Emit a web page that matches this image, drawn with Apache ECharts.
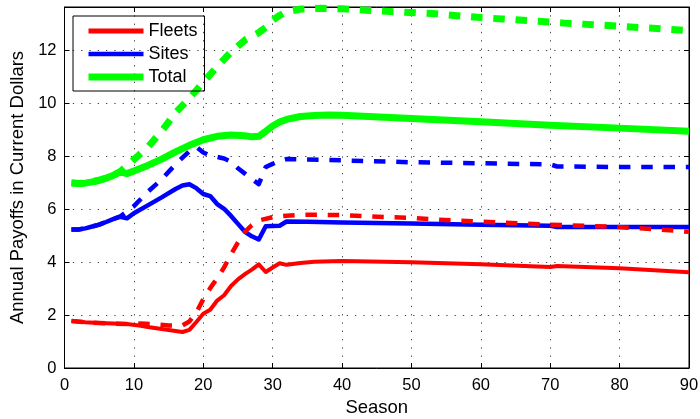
<!DOCTYPE html>
<html>
<head>
<meta charset="utf-8">
<script src="https://cdn.jsdelivr.net/npm/echarts@6/dist/echarts.min.js"></script>
<style>
  html, body { margin: 0; padding: 0; background: #fff; }
  #chart { width: 700px; height: 419px; }
</style>
</head>
<body>
<div id="chart"></div>
<script>
// Axis ticks
const xTicks = [0, 10, 20, 30, 40, 50, 60, 70, 80, 90];
const yTicks = [0, 2, 4, 6, 8, 10, 12];

// [season, value] pairs
const fleetsSolid = [[1,1.78],[3,1.73],[5,1.70],[7,1.68],[9,1.66],[11,1.60],[12,1.55],[13,1.51],[15,1.44],[16,1.40],[17,1.36],[18,1.44],[19,1.74],[20,2.05],[21,2.2],[22,2.55],[23,2.75],[24,3.1],[25,3.35],[26,3.55],[27,3.72],[28,3.92],[29,3.63],[30,3.8],[31,3.96],[32,3.9],[34,3.97],[36,4.02],[40,4.05],[50,4.0],[60,3.92],[70,3.82],[71,3.86],[80,3.77],[90,3.62]];
const fleetsDashed = [[1,1.78],[3,1.73],[5,1.70],[7,1.68],[9,1.66],[11,1.68],[13,1.65],[15,1.61],[17,1.61],[18,1.76],[19,2.1],[20,2.6],[21,3.02],[22,3.4],[23,3.8],[24,4.3],[25,4.75],[26,5.15],[27,5.4],[28,5.58],[30,5.7],[32,5.76],[34,5.79],[37,5.79],[40,5.78],[46,5.71],[50,5.68],[53,5.62],[60,5.53],[70,5.42],[79,5.34],[85,5.25],[90,5.15]];
const sitesSolid = [[1,5.24],[2,5.24],[3,5.28],[4,5.35],[5,5.42],[6,5.52],[7,5.63],[8,5.72],[9,5.66],[10,5.85],[12,6.15],[14,6.45],[16,6.77],[17,6.9],[18,6.95],[19,6.8],[20,6.58],[21,6.5],[22,6.2],[23,6.02],[24,5.75],[25,5.45],[26,5.15],[27,4.98],[28,4.86],[29,5.36],[30,5.37],[31,5.38],[32,5.54],[35,5.53],[40,5.5],[50,5.46],[60,5.42],[70,5.38],[71,5.33],[80,5.33],[90,5.33]];
const sitesDashed = [[1,5.24],[2,5.24],[3,5.28],[4,5.35],[5,5.42],[6,5.52],[7,5.63],[8,5.72],[10,6.12],[12,6.66],[14,7.13],[16,7.7],[18,8.2],[19,8.36],[20,8.15],[21,8.03],[22,7.98],[23,7.92],[24,7.8],[25,7.55],[26,7.35],[27,7.15],[28,6.95],[29,7.6],[30,7.72],[31,7.83],[32,7.9],[35,7.88],[40,7.85],[50,7.78],[60,7.74],[70,7.7],[71,7.62],[80,7.6],[90,7.6]];
const totalSolid = [[1,7.0],[2,6.98],[3,6.99],[4,7.04],[5,7.1],[6,7.18],[7,7.28],[8,7.42],[9,7.35],[10,7.45],[12,7.66],[14,7.9],[16,8.17],[18,8.42],[20,8.63],[22,8.76],[24,8.81],[26,8.78],[27,8.74],[28,8.76],[29,8.95],[30,9.15],[31,9.3],[32,9.4],[34,9.51],[36,9.55],[38,9.57],[40,9.56],[50,9.43],[60,9.31],[70,9.18],[80,9.07],[90,8.95]];
const totalDashed = [[1,7.0],[2,6.98],[3,6.99],[4,7.04],[5,7.1],[6,7.18],[7,7.28],[8,7.42],[10,7.88],[12,8.35],[14,8.95],[16,9.65],[18,10.2],[20,10.8],[22,11.4],[24,11.95],[26,12.4],[28,12.68],[29,12.88],[30,13.15],[31,13.33],[32,13.47],[34,13.57],[37,13.6],[40,13.58],[44,13.52],[47,13.48],[53,13.4],[60,13.25],[63,13.2],[70,13.08],[72,13.04],[79,12.94],[88,12.79],[90,12.76]];

const legendNames = ['Fleets', 'Sites', 'Total'];
const xName = 'Season';
const yName = 'Annual Payoffs in Current Dollars';

const FONT = '"Liberation Sans", Arial, sans-serif';
const DASH = [11.5, 10.8];

function line(name, data, color, width, dashed) {
  return {
    name: name, type: 'line', data: data, xAxisIndex: 0, yAxisIndex: 0,
    symbol: 'none', showSymbol: false, smooth: false, silent: true,
    lineStyle: { color: color, width: width, type: dashed ? DASH : 'solid', cap: 'butt', join: 'round' },
    itemStyle: { color: color },
    z: dashed ? 3 : 2
  };
}

const chart = echarts.init(document.getElementById('chart'), null, { renderer: 'canvas' });
const yFmt = v => (yTicks.indexOf(Math.round(v * 1000) / 1000) >= 0 ? String(v) : '');
const hiddenSym = { opacity: 0, borderWidth: 0 };
chart.setOption({
  animation: false,
  backgroundColor: '#fff',
  textStyle: { fontFamily: FONT },
  grid: { left: 64.5, right: 11, top: 7, bottom: 51, containLabel: false, outerBoundsMode: 'none',
          show: true, borderColor: '#000', borderWidth: 1, backgroundColor: 'transparent' },
  legend: {
    show: true, orient: 'vertical', left: 73, top: 16,
    padding: [5, 7, 4, 12], itemGap: 3, itemWidth: 55, itemHeight: 14,
    borderColor: '#000', borderWidth: 1, backgroundColor: 'transparent',
    textStyle: { fontFamily: FONT, fontSize: 18, color: '#000', lineHeight: 20 },
    selectedMode: false,
    itemStyle: hiddenSym,
    data: [
      { name: legendNames[0], itemStyle: hiddenSym, lineStyle: { width: 5, type: 'solid' } },
      { name: legendNames[1], itemStyle: hiddenSym, lineStyle: { width: 4.5, type: 'solid' } },
      { name: legendNames[2], itemStyle: hiddenSym, lineStyle: { width: 7, type: 'solid' } }
    ]
  },
  xAxis: [
    {
      type: 'value', position: 'bottom', min: xTicks[0], max: xTicks[xTicks.length - 1], interval: 10,
      name: xName, nameLocation: 'middle', nameGap: 28,
      nameTextStyle: { fontFamily: FONT, fontSize: 18.5, color: '#000' },
      axisLine: { show: true, onZero: false, lineStyle: { color: '#000', width: 1 } },
      axisTick: { show: true, inside: true, length: 5, lineStyle: { color: '#000' } },
      axisLabel: { show: true, margin: 9, fontFamily: FONT, fontSize: 16.5, color: '#000' },
      splitLine: { show: true, lineStyle: { color: '#444', width: 1, type: [1.3, 7] } }
    },
    {
      type: 'value', position: 'top', min: xTicks[0], max: xTicks[xTicks.length - 1], interval: 10,
      axisLine: { show: true, onZero: false, lineStyle: { color: '#000', width: 1 } },
      axisTick: { show: true, inside: true, length: 5, lineStyle: { color: '#000' } },
      axisLabel: { show: false }, splitLine: { show: false }
    }
  ],
  yAxis: [
    {
      type: 'value', position: 'left', min: 0, max: 13.65, interval: 2,
      name: yName, nameLocation: 'middle', nameGap: 27.5, nameRotate: 90,
      nameTextStyle: { fontFamily: FONT, fontSize: 18.5, color: '#000' },
      axisLine: { show: true, onZero: false, lineStyle: { color: '#000', width: 1 } },
      axisTick: { show: true, inside: true, length: 5, lineStyle: { color: '#000' } },
      axisLabel: { show: true, margin: 8, fontFamily: FONT, fontSize: 16.5, color: '#000', formatter: yFmt, showMaxLabel: false },
      splitLine: { show: true, lineStyle: { color: '#444', width: 1, type: [1.3, 7] } }
    },
    {
      type: 'value', position: 'right', min: 0, max: 13.65, interval: 2,
      axisLine: { show: true, onZero: false, lineStyle: { color: '#000', width: 1 } },
      axisTick: { show: true, inside: true, length: 5, lineStyle: { color: '#000' } },
      axisLabel: { show: false }, splitLine: { show: false }
    }
  ],
  series: [
    line(legendNames[0], fleetsSolid, '#ff0000', 4, false),
    line(legendNames[1], sitesSolid, '#0000ff', 4.5, false),
    line(legendNames[2], totalSolid, '#00ff00', 7, false),
    line('Fleets (dashed)', fleetsDashed, '#ff0000', 4.5, true),
    line('Sites (dashed)', sitesDashed, '#0000ff', 4.5, true),
    line('Total (dashed)', totalDashed, '#00ff00', 7, true)
  ]
});
</script>
</body>
</html>
